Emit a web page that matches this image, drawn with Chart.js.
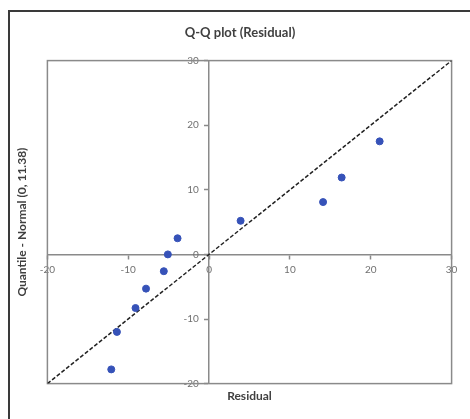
<!DOCTYPE html>
<html>
<head>
<meta charset="utf-8">
<script src="https://cdn.jsdelivr.net/npm/chart.js@4.4.1/dist/chart.umd.min.js"></script>
<style>
  html, body { margin: 0; padding: 0; background: #fff; overflow: hidden; }
  #frame {
    position: absolute; left: 8px; top: 10px;
    width: 480px; height: 430px;
    border: 2px solid #3a3a3a;
  }
  #wrap { position: absolute; left: 0; top: 0; width: 470px; height: 419px; }
</style>
</head>
<body>
<div id="frame"></div>
<div id="wrap"><canvas id="myChart" width="470" height="419"></canvas></div>
<script>
// residuals vs normal quantiles
const residuals = [21.1, 16.4, 14.1, 3.9, -3.9, -5.1, -5.6, -7.8, -9.1, -11.4, -12.1];
const quantiles = [17.5, 11.9, 8.1, 5.2, 2.5, 0.0, -2.6, -5.3, -8.3, -12.0, -17.8];
const refLine = [-20, 30];

const axisMin = -20;
const axisMax = 30;
const axisStep = 10;

const titleText = "Q-Q plot (Residual)";
const xTitle = "Residual";
const yTitle = "Quantile - Normal (0, 11.38)";

const points = residuals.map((r, i) => ({ x: r, y: quantiles[i] }));
const linePts = refLine.map((v) => ({ x: v, y: v }));

const gray = "#8a8a8a";
const labelGray = "#707070";
const fontFam = "Lato, 'Open Sans', sans-serif";

// plot area outline
const areaBorder = {
  id: "areaBorder",
  beforeDatasetsDraw(chart) {
    const { ctx, chartArea } = chart;
    ctx.save();
    ctx.strokeStyle = gray;
    ctx.lineWidth = 1.5;
    ctx.strokeRect(chartArea.left, chartArea.top, chartArea.right - chartArea.left, chartArea.bottom - chartArea.top);
    ctx.restore();
  }
};

function centerAxis(pos, labelFn) {
  return {
    type: "linear",
    position: pos,
    min: axisMin,
    max: axisMax,
    border: { display: true, color: gray, width: 1.5 },
    grid: { drawOnChartArea: false, drawTicks: true, tickLength: 4, color: gray, tickWidth: 1.5 },
    ticks: { stepSize: axisStep, color: labelGray, padding: 5, font: { family: fontFam, size: 10 }, callback: labelFn }
  };
}

function titleAxis(pos, text, padding) {
  return {
    type: "linear",
    position: pos,
    min: axisMin,
    max: axisMax,
    border: { display: false },
    grid: { display: false, drawTicks: false },
    ticks: { display: false },
    title: { display: true, text: text, color: "#404040", padding: padding, font: { family: fontFam, size: 12, weight: "bold" } }
  };
}

const ctx = document.getElementById("myChart");

new Chart(ctx, {
  type: "scatter",
  data: {
    datasets: [
      {
        type: "line",
        label: "ref",
        data: linePts,
        borderColor: "#222",
        borderWidth: 1.5,
        borderDash: [4, 2],
        pointRadius: 0,
        fill: false,
        order: 2
      },
      {
        label: "Residual",
        data: points,
        backgroundColor: "#3652b8",
        borderColor: "#3652b8",
        pointRadius: 3.5,
        order: 1
      }
    ]
  },
  options: {
    responsive: false,
    animation: false,
    layout: { padding: { left: 10, right: 0, top: 18, bottom: 12 } },
    plugins: {
      legend: { display: false },
      tooltip: { enabled: false },
      title: {
        display: true,
        text: titleText,
        color: "#404040",
        padding: { top: 7, bottom: 20 },
        font: { family: fontFam, size: 13, weight: "bold" }
      }
    },
    scales: {
      x: centerAxis({ y: 0 }, (v) => v),
      // centred y axis puts labels right on the line, pad them off it
      y: centerAxis({ x: 0 }, (v) => v + "    "),
      xb: titleAxis("bottom", xTitle, { top: 5, bottom: 4 }),
      yl: titleAxis("left", yTitle, { top: 5, bottom: 18 }),
      yr: titleAxis("right", " ", { top: 2, bottom: 2 })
    }
  },
  plugins: [areaBorder]
});
</script>
</body>
</html>
